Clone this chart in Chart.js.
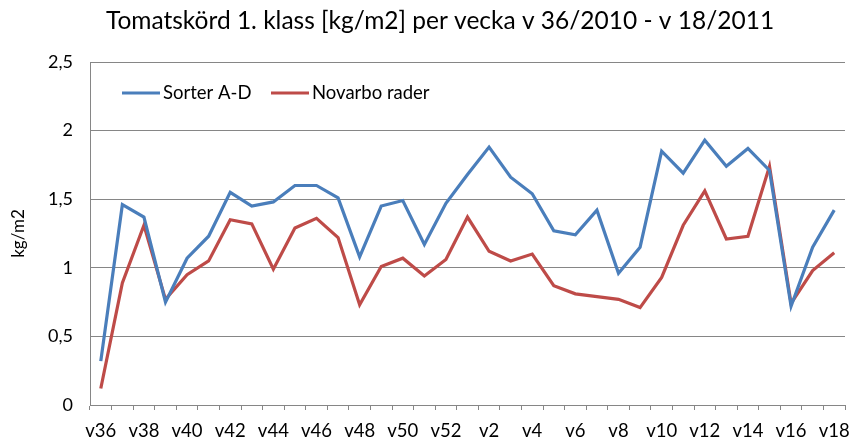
<!DOCTYPE html>
<html>
<head>
<meta charset="utf-8">
<script src="https://cdn.jsdelivr.net/npm/chart.js@4/dist/chart.umd.min.js"></script>
<style>
html,body{margin:0;padding:0;background:#fff;}
#wrap{width:850px;height:444px;position:relative;}
</style>
</head>
<body>
<div id="wrap"><canvas id="c" width="850" height="444"></canvas></div>
<script>
const weeks = ['v36','v37','v38','v39','v40','v41','v42','v43','v44','v45','v46','v47','v48','v49','v50','v51','v52',
  'v1','v2','v3','v4','v5','v6','v7','v8','v9','v10','v11','v12','v13','v14','v15','v16','v17','v18'];
const sorterAD = [0.32,1.46,1.37,0.75,1.07,1.23,1.55,1.45,1.48,1.60,1.60,1.51,1.08,1.45,1.49,1.17,1.47,
  1.68,1.88,1.66,1.54,1.27,1.24,1.42,0.96,1.15,1.85,1.69,1.93,1.74,1.87,1.71,0.72,1.15,1.42];
const novarbo = [0.12,0.89,1.31,0.77,0.95,1.05,1.35,1.32,0.99,1.29,1.36,1.22,0.73,1.01,1.07,0.94,1.06,
  1.37,1.12,1.05,1.10,0.87,0.81,0.79,0.77,0.71,0.93,1.31,1.56,1.21,1.23,1.74,0.74,0.98,1.11];
const titleText = 'Tomatskörd 1. klass [kg/m2] per vecka v 36/2010 - v 18/2011';
const seriesNames = ['Sorter A-D','Novarbo rader'];
const yTitle = 'kg/m2';

const FONT = 'Lato, "Liberation Sans", sans-serif';
const BLUE = '#4A7EBB', RED = '#BE4B48', GRID = '#868686';

const overlay = {
  id: 'overlay',
  afterDraw(chart) {
    const ctx = chart.ctx;
    ctx.save();
    ctx.fillStyle = '#000';
    ctx.font = '24.5px ' + FONT;
    ctx.textAlign = 'center';
    ctx.textBaseline = 'middle';
    ctx.fillText(titleText, 440, 21);
    // legend
    const ly = 93;
    const items = [{x:122, c:BLUE, t:seriesNames[0]}, {x:271, c:RED, t:seriesNames[1]}];
    ctx.font = '18.5px ' + FONT;
    ctx.textAlign = 'left';
    items.forEach(it => {
      ctx.strokeStyle = it.c; ctx.lineWidth = 3.2; ctx.lineCap = 'butt';
      ctx.beginPath(); ctx.moveTo(it.x, ly); ctx.lineTo(it.x + 38, ly); ctx.stroke();
      ctx.fillText(it.t, it.x + 41, ly);
    });
    ctx.restore();
  }
};

new Chart(document.getElementById('c'), {
  type: 'line',
  data: {
    labels: weeks,
    datasets: [
      {label: seriesNames[0], data: sorterAD, borderColor: BLUE, backgroundColor: BLUE, borderWidth: 3.2, pointRadius: 0, tension: 0},
      {label: seriesNames[1], data: novarbo, borderColor: RED, backgroundColor: RED, borderWidth: 3.2, pointRadius: 0, tension: 0}
    ]
  },
  options: {
    responsive: false,
    animation: false,
    layout: {padding: {top: 62, right: 5, bottom: 0, left: 0}},
    plugins: {legend: {display: false}, title: {display: false}, tooltip: {enabled: false}},
    scales: {
      x: {
        offset: true,
        grid: {display: true, drawOnChartArea: false, drawTicks: true, tickLength: 5, offset: true, color: GRID},
        border: {color: GRID},
        ticks: {autoSkip: false, maxRotation: 0, color: '#000', font: {family: FONT, size: 18.5}, padding: 10,
          callback: function(v, i) { return i % 2 === 0 ? this.getLabelForValue(v) : ''; }},
        afterFit(s) { s.height = 39; s.paddingLeft = 0; s.paddingRight = 0; }
      },
      y: {
        min: 0, max: 2.5,
        grid: {color: GRID, drawTicks: false},
        border: {color: GRID},
        ticks: {stepSize: 0.5, color: '#000', font: {family: FONT, size: 18}, padding: 17,
          callback: v => String(v).replace('.', ',')},
        title: {display: true, text: yTitle, color: '#000', font: {family: FONT, size: 17}, padding: {top: 8, bottom: 0}},
        afterFit(s) { s.width = 90; s.paddingTop = 0; s.paddingBottom = 0; }
      }
    }
  },
  plugins: [overlay]
});
</script>
</body>
</html>
